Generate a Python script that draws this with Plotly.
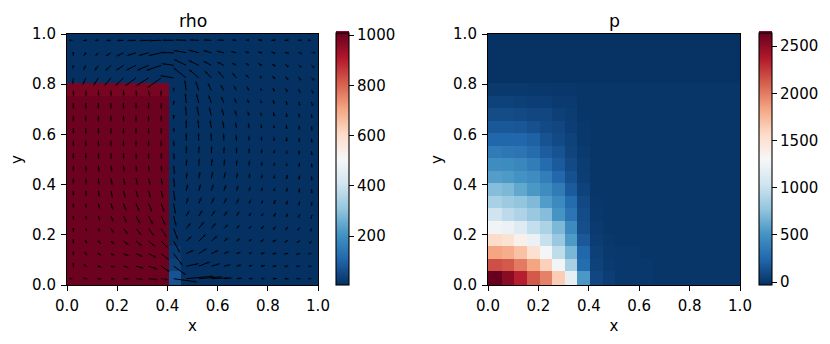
import numpy as np
import plotly.graph_objects as go

# cell edges of the 20x20 grid, the image sits about a pixel off the ticks
x_edges = [0] + [0.005 + 0.05 * i for i in range(1, 20)] + [1]
y_edges = [0] + [0.005 + 0.05 * i for i in range(1, 20)] + [1]
# arrow tails are on the true cell centres
x_cells = [0.025 + 0.05 * i for i in range(20)]
y_cells = [0.025 + 0.05 * i for i in range(20)]

# density, bottom row first (rows 2 and up only differ in the column and its top)
rho_rows = [
    [1000] * 8 + [70] + [6] * 11,
    [1000] * 8 + [35] + [6] * 11,
    [1000] * 8 + [20] + [6] * 11,
] + [[1000] * 8 + [6] * 12 for _ in range(12)] + [
    [985] * 8 + [6] * 12,
] + [[6] * 20 for _ in range(4)]

# pressure, bottom row first
p_rows = [
    [2640, 2520, 2350, 2130, 1980, 1640, 1190, 530, 80, 40, 10, 10, 10, 0, 0, 0, 0, 0, 0, 0],
    [2170, 2130, 2000, 1840, 1620, 1270, 860, 280, 60, 20, 10, 10, 10, 0, 0, 0, 0, 0, 0, 0],
    [1840, 1800, 1700, 1520, 1280, 960, 690, 240, 50, 15, 10, 10, 0, 0, 0, 0, 0, 0, 0, 0],
    [1560, 1500, 1370, 1220, 1000, 800, 540, 170, 30, 10, 0, 0, 0, 0, 0, 0, 0, 0, 0, 0],
    [1260, 1220, 1130, 980, 880, 700, 450, 120, 20, 0, 0, 0, 0, 0, 0, 0, 0, 0, 0, 0],
    [1030, 950, 890, 800, 730, 510, 320, 110, 10, 0, 0, 0, 0, 0, 0, 0, 0, 0, 0, 0],
    [870, 810, 770, 710, 550, 450, 270, 90, 5, 0, 0, 0, 0, 0, 0, 0, 0, 0, 0, 0],
    [730, 700, 610, 530, 470, 360, 180, 60, 0, 0, 0, 0, 0, 0, 0, 0, 0, 0, 0, 0],
    [560, 540, 500, 470, 380, 250, 130, 40, 0, 0, 0, 0, 0, 0, 0, 0, 0, 0, 0, 0],
    [470, 460, 430, 370, 270, 180, 100, 30, 0, 0, 0, 0, 0, 0, 0, 0, 0, 0, 0, 0],
    [360, 340, 320, 270, 190, 140, 70, 20, 0, 0, 0, 0, 0, 0, 0, 0, 0, 0, 0, 0],
    [240, 240, 240, 210, 140, 100, 60, 10, 0, 0, 0, 0, 0, 0, 0, 0, 0, 0, 0, 0],
    [170, 170, 160, 130, 100, 80, 40, 10, 0, 0, 0, 0, 0, 0, 0, 0, 0, 0, 0, 0],
    [110, 110, 100, 80, 80, 50, 30, 0, 0, 0, 0, 0, 0, 0, 0, 0, 0, 0, 0, 0],
    [60, 60, 50, 40, 40, 20, 20, 0, 0, 0, 0, 0, 0, 0, 0, 0, 0, 0, 0, 0],
    [15, 15, 15, 10, 10, 5, 5, 0, 0, 0, 0, 0, 0, 0, 0, 0, 0, 0, 0, 0],
    [-20] * 20,
    [-20] * 20,
    [-20] * 20,
    [-20] * 20,
]

# velocity, bottom row first
u_rows = [
    [0, 4, 9, 14, 18, 22, 29, 23, 73, 85, 72, 55, 28, 20, 15, 12, 8, 6, 4, 1],
    [0, 3, 9, 14, 18, 24, 29, 27, 38, 40, 36, 28, 22, 17, 13, 10, 7, 5, 3, 1],
    [0, 3, 8, 13, 18, 22, 25, 25, 28, 25, 26, 23, 18, 15, 12, 9, 7, 5, 3, 1],
    [0, 3, 7, 12, 17, 20, 22, 22, 20, 18, 23, 20, 15, 13, 10, 7, 6, 4, 3, 1],
    [0, 3, 6, 10, 14, 17, 18, 18, 13, 15, 17, 15, 14, 11, 9, 7, 5, 4, 3, 1],
    [0, 2, 5, 8, 11, 13, 14, 14, 8, 10, 12, 13, 12, 10, 8, 7, 5, 4, 3, 1],
    [0, 1, 4, 7, 9, 10, 11, 10, 6, 7, 9, 10, 9, 8, 7, 5, 4, 3, 2, 1],
    [0, 1, 3, 5, 6, 7, 7, 6, 4, 5, 6, 7, 7, 6, 5, 4, 3, 2, 1, 0],
    [0, 1, 2, 4, 5, 5, 5, 4, 3, 3, 4, 5, 5, 4, 3, 3, 2, 2, 1, 0],
    [0, 1, 2, 3, 3, 3, 2, 2, 3, 2, 2, 3, 3, 2, 2, 2, 1, 1, 1, 0],
    [0, 0, 1, 1, 1, 1, 1, 1, 2, 1, 1, 1, 1, 1, 1, 1, 1, 1, 0, 0],
    [0, 0, 0, 0, 0, 0, 0, 0, 1, 0, -1, -1, -1, -1, 0, 0, 0, 0, 0, 0],
    [0, 0, 0, 0, 0, 0, 0, 0, 1, 0, -3, -4, -4, -3, -2, -2, -1, -1, 0, 0],
    [0, 0, 0, 0, 0, 0, 0, 0, 0, -2, -6, -7, -7, -5, -4, -3, -2, -1, -1, 0],
    [0, 0, 0, 0, 0, 0, 0, 0, -1, -3, -8, -9, -9, -7, -6, -4, -3, -2, -1, -1],
    [1, 1, 1, 1, 1, 2, 3, -1, 0, -5, -10, -11, -11, -9, -8, -5, -4, -3, -2, -1],
    [-2, -10, -16, -21, -26, -34, -39, -43, -42, -40, -31, -21, -19, -14, -12, -7, -5, -3, -2, -1],
    [-2, -8, -13, -18, -24, -32, -37, -47, -39, -40, -33, -26, -22, -16, -12, -9, -6, -4, -2, -1],
    [0, -6, -11, -18, -23, -29, -32, -40, -42, -40, -33, -26, -24, -19, -14, -10, -8, -5, -3, -1],
    [0, -8, -12, -17, -22, -28, -30, -40, -37, -35, -30, -26, -22, -16, -12, -10, -8, -6, -4, 0],
]
v_rows = [
    [0, -1, -1, -1, -1, -2, -3, -3, -10, 8, 6, 3, 2, 2, 1, 1, 1, 0, 0, 0],
    [-3, -3, -3, -3, -4, -6, -10, -18, -27, 8, 14, 8, 5, 4, 3, 2, 1, 1, 0, 0],
    [-5, -5, -5, -6, -8, -10, -13, -20, -37, 12, 16, 11, 7, 5, 4, 3, 2, 1, 1, 0],
    [-7, -7, -8, -10, -13, -16, -18, -22, -37, 15, 22, 17, 11, 9, 7, 5, 4, 3, 2, 1],
    [-10, -11, -12, -15, -18, -21, -24, -28, -35, 18, 22, 18, 14, 11, 9, 8, 6, 5, 3, 2],
    [-14, -14, -16, -19, -22, -25, -27, -30, -33, 18, 19, 18, 16, 15, 12, 10, 9, 7, 5, 3],
    [-16, -17, -18, -21, -24, -26, -27, -27, -34, 20, 20, 20, 18, 16, 14, 12, 10, 8, 6, 5],
    [-18, -19, -20, -22, -23, -24, -24, -23, -33, 22, 22, 22, 20, 18, 15, 13, 11, 9, 7, 5],
    [-19, -20, -21, -22, -22, -22, -22, -21, -30, 20, 22, 22, 21, 19, 17, 14, 12, 10, 8, 6],
    [-19, -20, -20, -20, -20, -20, -20, -20, -28, 22, 24, 24, 22, 20, 18, 15, 13, 11, 9, 7],
    [-20, -20, -20, -20, -20, -20, -20, -20, -22, 25, 24, 24, 22, 20, 18, 15, 13, 11, 8, 6],
    [-20, -20, -20, -20, -20, -20, -20, -20, -20, 25, 25, 25, 23, 20, 17, 15, 13, 10, 8, 6],
    [-20, -20, -20, -20, -20, -20, -20, -20, -15, 28, 28, 27, 24, 20, 17, 14, 12, 9, 7, 5],
    [-20, -20, -20, -20, -20, -20, -20, -20, -10, 30, 30, 27, 23, 19, 15, 12, 10, 7, 6, 4],
    [-20, -20, -20, -20, -20, -20, -20, -20, -5, 32, 30, 26, 21, 17, 14, 11, 9, 6, 4, 3],
    [-19, -19, -19, -19, -19, -19, -19, -19, -3, 34, 29, 24, 19, 16, 14, 10, 8, 6, 4, 2],
    [-21, -23, -25, -25, -25, -25, -25, -31, 7, 32, 27, 22, 22, 17, 12, 9, 6, 4, 3, 1],
    [-13, -16, -18, -18, -16, -16, -16, -16, 6, 19, 16, 14, 11, 9, 8, 6, 4, 3, 2, 1],
    [-9, -9, -11, -11, -11, -9, -9, -9, 1, 8, 9, 8, 6, 5, 4, 3, 2, 1, 1, 0],
    [0, -1, -1, -1, -1, -1, -1, -1, 0, 1, 1, 1, 1, 1, 1, 1, 0, 0, 0, 0],
]
arrow_scale = 1 / 756  # velocity units to axis units

x_ticks = [0, 0.2, 0.4, 0.6, 0.8, 1]
rho_ticks = [200, 400, 600, 800, 1000]
p_ticks = [0, 500, 1000, 1500, 2000, 2500]

# the page body keeps an 8px margin, so the figure is that much smaller and shifted
W, H = 822, 336
font = dict(family="DejaVu Sans", size=15, color="black")
title_font = dict(family="DejaVu Sans", size=17.3, color="black")
ink = "black"


def fx(px):
    return (px - 8) / W


def fy(py):
    return 1 - (py - 8) / H


def colorbar(px, ticks):
    return dict(x=fx(px), xanchor="left", xref="paper", thickness=13, thicknessmode="pixels",
                y=fy(285), yanchor="bottom", yref="paper", len=252 / H, lenmode="fraction",
                xpad=0, ypad=0, outlinewidth=1.1, outlinecolor=ink, tickvals=ticks,
                ticks="outside", ticklen=5, tickwidth=1.1, tickcolor=ink, tickfont=font)


fig = go.Figure()
fig.add_trace(go.Heatmap(x=x_edges, y=y_edges, z=rho_rows, colorscale="RdBu_r", zmin=5, zmax=1008,
                         colorbar=colorbar(336, rho_ticks), xaxis="x", yaxis="y"))
fig.add_trace(go.Heatmap(x=x_edges, y=y_edges, z=p_rows, colorscale="RdBu_r", zmin=-30, zmax=2640,
                         colorbar=colorbar(759, p_ticks), xaxis="x2", yaxis="y2"))

# quiver: one line per cell with an arrow marker on its tip
qx, qy, qs = [], [], []
for j, yc in enumerate(y_cells):
    for i, xc in enumerate(x_cells):
        du, dv = u_rows[j][i] * arrow_scale, v_rows[j][i] * arrow_scale
        qx += [xc, xc + du, None]
        qy += [yc, yc + dv, None]
        qs += [0, 4, 0]
fig.add_trace(go.Scatter(x=qx, y=qy, mode="lines+markers", xaxis="x", yaxis="y", showlegend=False,
                         line=dict(color=ink, width=1),
                         marker=dict(symbol="arrow", angleref="previous", size=qs, color=ink,
                                     line=dict(width=0))))


def axis(domain, anchor, title):
    return dict(domain=domain, range=[0, 1], anchor=anchor, tickvals=x_ticks, tickformat=".1f",
                showgrid=False, zeroline=False, showline=True, mirror=True, linecolor=ink, linewidth=1.1,
                ticks="outside", ticklen=5, tickwidth=1.1, tickcolor=ink, tickfont=font,
                ticklabelstandoff=2, automargin=False, title=dict(text=title, font=font, standoff=6))


# colorbar end caps: white sliver at the bottom, dark red cap above the top
cbar_edges = [(336, 349), (759, 772)]
shapes = []
for left, right in cbar_edges:
    shapes.append(dict(type="rect", xref="paper", yref="paper", x0=fx(left + 0.5), x1=fx(right - 0.5),
                       y0=fy(285), y1=fy(283), fillcolor="white", line=dict(width=0), layer="above"))
    shapes.append(dict(type="rect", xref="paper", yref="paper", x0=fx(left), x1=fx(right),
                       y0=fy(33), y1=fy(31), fillcolor="#8a0a2e", line=dict(width=0), layer="above"))

ydom = [fy(285), fy(34)]
fig.update_layout(
    width=W, height=H, margin=dict(l=0, r=0, t=0, b=0, autoexpand=False), autosize=False,
    paper_bgcolor="white", plot_bgcolor="white", showlegend=False, shapes=shapes,
    xaxis=axis([fx(67), fx(318)], "y", "x"),
    yaxis=axis(ydom, "x", "y"),
    xaxis2=axis([fx(488), fx(740)], "y2", "x"),
    yaxis2=axis(ydom, "x2", "y"),
    annotations=[
        dict(text="rho", x=fx(193), y=fy(21), xref="paper", yref="paper", showarrow=False,
             xanchor="center", yanchor="middle", font=title_font),
        dict(text="p", x=fx(614), y=fy(21), xref="paper", yref="paper", showarrow=False,
             xanchor="center", yanchor="middle", font=title_font),
    ],
)

fig.write_html("out.html")
